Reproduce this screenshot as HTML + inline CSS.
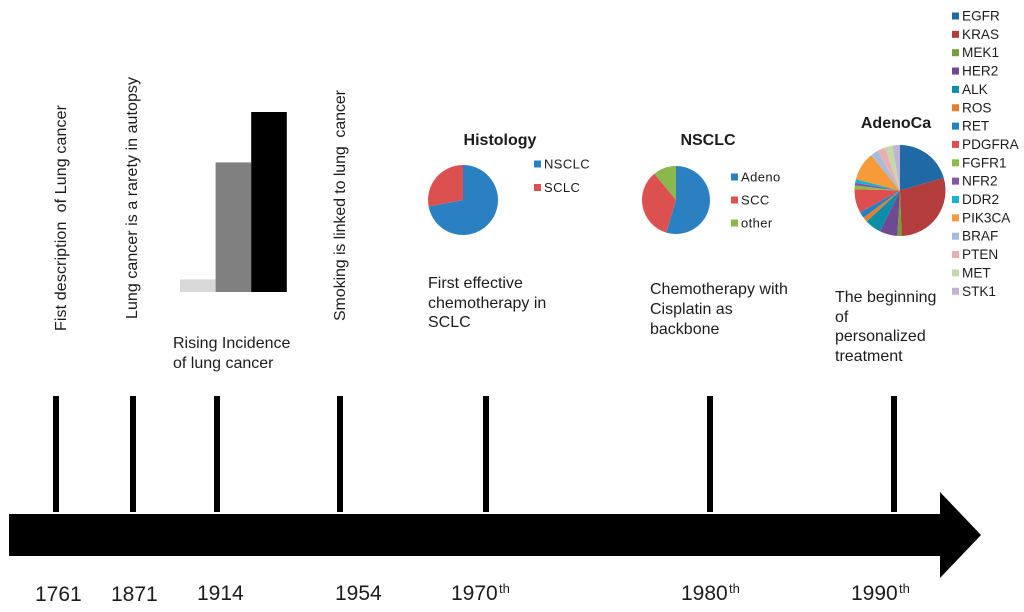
<!DOCTYPE html>
<html>
<head>
<meta charset="utf-8">
<title>Lung cancer timeline</title>
<style>
html,body{margin:0;padding:0;background:#fff;}
svg{display:block;filter:blur(0.35px);}
text{font-family:"Liberation Sans",sans-serif;fill:#1c1c1c;white-space:pre;}
</style>
</head>
<body>
<svg id="chart" xmlns="http://www.w3.org/2000/svg" width="1024" height="612" viewBox="0 0 1024 612">
  <g>
    <polygon points="9,514 940,514 940,492 981,535 940,578 940,556 9,556" fill="#000"/>
  </g>
  <g id="ticks"></g>
  <g id="years"></g>

  <text transform="translate(66,331) rotate(-90)" font-size="16" textLength="226">Fist description  of Lung cancer</text>
  <text transform="translate(137,319) rotate(-90)" font-size="16" textLength="242">Lung cancer is a rarety in autopsy</text>
  <text transform="translate(345,321) rotate(-90)" font-size="16" textLength="231">Smoking is linked to lung  cancer</text>

  <g id="bars"></g>

  <g font-size="16">
    <text x="173" y="348">Rising Incidence</text>
    <text x="173" y="368">of lung cancer</text>
  </g>
  <g font-size="16">
    <text x="428" y="288">First effective</text>
    <text x="428" y="308">chemotherapy in</text>
    <text x="428" y="327">SCLC</text>
  </g>
  <g font-size="16">
    <text x="650" y="294">Chemotherapy with</text>
    <text x="650" y="314">Cisplatin as</text>
    <text x="650" y="334">backbone</text>
  </g>
  <g font-size="16">
    <text x="835" y="302">The beginning</text>
    <text x="835" y="322">of</text>
    <text x="835" y="341">personalized</text>
    <text x="835" y="361">treatment</text>
  </g>

  <text x="500" y="145" font-size="16" font-weight="bold" text-anchor="middle">Histology</text>
  <text x="708" y="145" font-size="16" font-weight="bold" text-anchor="middle">NSCLC</text>
  <text x="896" y="128" font-size="16" font-weight="bold" text-anchor="middle">AdenoCa</text>

  <g id="pie-histology"></g>
  <g id="pie-nsclc"></g>
  <g id="pie-adeno"></g>
  <g id="legend-histology"></g>
  <g id="legend-nsclc"></g>
  <g id="legend-adeno"></g>
</svg>
<script>
var timelineYears = ['1761','1871','1914','1954','1970','1980','1990'];
var yearSuffix = ['','','','','th','th','th'];
var incidenceLabels = ['early','middle','late'];
var incidenceValues = [7,72,100];
var incidenceColors = ['#d9d9d9','#808080','#000000'];
var histologyLabels = ['NSCLC','SCLC'];
var histologyValues = [72,28];
var histologyColors = ['#2a80c0','#dc5050'];
var nsclcLabels = ['Adeno','SCC','other'];
var nsclcValues = [54.6,34.4,11];
var nsclcColors = ['#2a80c0','#dc5050','#8ab84a'];
var adenoLabels = ['EGFR','KRAS','MEK1','HER2','ALK','ROS','RET','PDGFRA','FGFR1','NFR2','DDR2','PIK3CA','BRAF','PTEN','MET','STK1'];
var adenoValues = [20.3,28.6,1.5,6.2,5.8,1.7,2.2,8.3,1.3,1,1.2,10,2.7,2.8,2.7,2.6];
var adenoColors = ['#1f6aa5','#b33c3c','#74a03c','#6e4a93','#0d8ea8','#e67e2e','#2480c4','#dd4f4f','#8cbb4a','#8655a8','#13b4cf','#f79a3a','#a5bcdc','#e8aeb0','#c4d9a8','#c0b3d4'];

var NS = 'http://www.w3.org/2000/svg';
function make(tag, attrs, parent) {
  var el = document.createElementNS(NS, tag);
  for (var k in attrs) el.setAttribute(k, attrs[k]);
  parent.appendChild(el);
  return el;
}

/* timeline */
var tickCenters = {'1761':56,'1871':133,'1914':217,'1954':340,'1970':486,'1980':710,'1990':894};
var yearStarts = {'1761':35,'1871':111,'1914':197,'1954':335,'1970':451,'1980':681,'1990':851};
var ticksG = document.getElementById('ticks');
var yearsG = document.getElementById('years');
timelineYears.forEach(function (year, i) {
  var tick = make('rect', {x: tickCenters[year] - 3, y: 396, width: 6, height: 116, fill: '#000'}, ticksG);
  
  
  var label = make('text', {x: yearStarts[year], y: i < 2 ? 601 : 600, 'font-size': 21}, yearsG);
  
  
  label.textContent = year;
  if (yearSuffix[i]) {
    var sup = make('text', {x: yearStarts[year] + 48, y: 593, 'font-size': 13}, yearsG);
    
    
    sup.textContent = yearSuffix[i];
  }
});

/* incidence bars */
var barsG = document.getElementById('bars');
function barX(i) { return 180 + i * 35.6; }
function barHeight(v) { return v / 100 * 180; }
incidenceValues.forEach(function (v, i) {
  var h = barHeight(v);
  var bar = make('rect', {x: barX(i), y: 292 - h, width: 35.6, height: h, fill: incidenceColors[i]}, barsG);
  
  
});

/* pies */
function drawPie(id, cx, cy, r, labels, values, colors) {
  var g = document.getElementById(id);
  var total = values.reduce(function (a, b) { return a + b; }, 0);
  var start = 0;
  values.forEach(function (v, i) {
    var end = start + v / total * Math.PI * 2;
    var x0 = cx + r * Math.sin(start), y0 = cy - r * Math.cos(start);
    var x1 = cx + r * Math.sin(end), y1 = cy - r * Math.cos(end);
    var large = end - start > Math.PI ? 1 : 0;
    var d = 'M' + cx + ',' + cy + 'L' + x0 + ',' + y0 + 'A' + r + ',' + r + ' 0 ' + large + ' 1 ' + x1 + ',' + y1 + 'Z';
    var slice = make('path', {d: d, fill: colors[i]}, g);
    
    
    start = end;
  });
}
function drawLegend(id, x, y0, step, labels, colors, size, spacing) {
  var g = document.getElementById(id);
  labels.forEach(function (name, i) {
    var y = y0 + i * step;
    var swatch = make('rect', {x: x, y: y - 3.5, width: 7, height: 7, fill: colors[i]}, g);
    
    
    var label = make('text', {x: x + 10, y: y + 4.5, 'font-size': size, 'letter-spacing': spacing}, g);
    
    
    label.textContent = name;
  });
}
drawPie('pie-histology', 463, 200, 35, histologyLabels, histologyValues, histologyColors);
drawPie('pie-nsclc', 676, 200, 34, nsclcLabels, nsclcValues, nsclcColors);
drawPie('pie-adeno', 900, 190.5, 45.5, adenoLabels, adenoValues, adenoColors);
drawLegend('legend-histology', 534, 164, 23.5, histologyLabels, histologyColors, 13, 0.4);
drawLegend('legend-nsclc', 731, 177, 23, nsclcLabels, nsclcColors, 13, 0.4);
drawLegend('legend-adeno', 952, 16, 18.35, adenoLabels, adenoColors, 13.6, 0);
</script>
</body>
</html>
